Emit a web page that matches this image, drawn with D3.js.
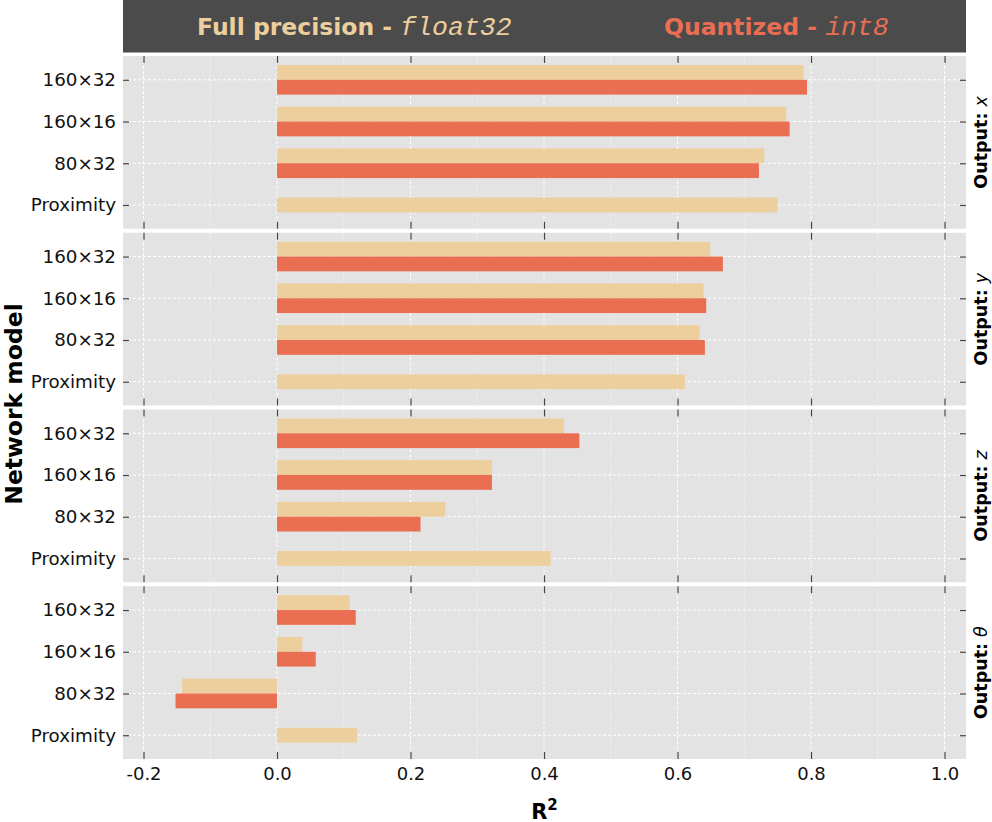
<!DOCTYPE html>
<html>
<head>
<meta charset="utf-8">
<script src="https://cdn.jsdelivr.net/npm/d3@7"></script>
<style>
  body { margin: 0; background: #fff; }
  text { font-family: "DejaVu Sans", sans-serif; }
</style>
</head>
<body>
<svg id="chart" width="992" height="822"></svg>
<script>
// chart data
const outputs = ["x", "y", "z", "θ"];
const models = ["160×32", "160×16", "80×32", "Proximity"];
// R² per output (rows) and model (columns)
const float32 = [
  [0.789, 0.763, 0.730, 0.750],
  [0.649, 0.639, 0.633, 0.611],
  [0.430, 0.322, 0.252, 0.410],
  [0.109, 0.038, -0.142, 0.120]
];
const int8 = [
  [0.794, 0.768, 0.722, null],
  [0.668, 0.643, 0.641, null],
  [0.453, 0.322, 0.215, null],
  [0.118, 0.058, -0.152, null]
];
const xTicks = [-0.2, 0.0, 0.2, 0.4, 0.6, 0.8, 1.0];
const xMinor = [-0.1, 0.1, 0.3, 0.5, 0.7, 0.9];

const colFloat = "#edcf9e";
const colInt = "#e96e52";

const svg = d3.select("#chart");
const plotL = 123, plotR = 966, plotT = 56, plotB = 759;

const x = d3.scaleLinear().domain([-0.2307, 1.0322]).range([plotL, plotR]);

const panel = d3.scaleBand()
  .domain(outputs)
  .range([plotT, plotB])
  .paddingInner(0.0226)
  .paddingOuter(0);

// header band with the legend text
svg.append("rect")
  .attr("x", plotL).attr("y", 0)
  .attr("width", plotR - plotL).attr("height", 52.5)
  .attr("fill", "#4b4b4b");

function legendText(xPos, label, code, color) {
  const t = svg.append("text")
    .attr("x", xPos).attr("y", 35)
    .attr("fill", color)
    .style("font-size", "23.5px");
  t.append("tspan").style("font-weight", "bold").text(label);
  t.append("tspan")
    .style("font-family", "'Liberation Mono', monospace")
    .style("font-style", "italic")
    .style("font-size", "26.5px")
    .text(code);
}
legendText(197, "Full precision - ", "float32", colFloat);
legendText(664, "Quantized - ", "int8", colInt);

outputs.forEach((out, i) => {
  const y0 = panel(out), h = panel.bandwidth();
  const g = svg.append("g");

  const y = d3.scalePoint().domain(models).range([y0, y0 + h]).padding(0.57);
  const barH = y.step() * 0.355;

  g.append("rect")
    .attr("x", plotL).attr("y", y0)
    .attr("width", plotR - plotL).attr("height", h)
    .attr("fill", "#e3e3e3");

  // grid
  g.selectAll(".minor").data(xMinor).join("line")
    .attr("x1", d => x(d)).attr("x2", d => x(d))
    .attr("y1", y0).attr("y2", y0 + h)
    .attr("stroke", "#fff").attr("stroke-width", 0.7)
    .attr("stroke-dasharray", "1.5,1.5").attr("opacity", 0.8);
  g.selectAll(".major").data(xTicks).join("line")
    .attr("x1", d => x(d)).attr("x2", d => x(d))
    .attr("y1", y0).attr("y2", y0 + h)
    .attr("stroke", "#fff").attr("stroke-width", 1)
    .attr("stroke-dasharray", "3,2");
  g.selectAll(".ygrid").data(models).join("line")
    .attr("x1", plotL).attr("x2", plotR)
    .attr("y1", d => y(d)).attr("y2", d => y(d))
    .attr("stroke", "#fff").attr("stroke-width", 1)
    .attr("stroke-dasharray", "3,2");

  // bars
  const rows = models.map((m, j) => ({ m, f: float32[i][j], q: int8[i][j] }));
  g.selectAll(".bf").data(rows).join("rect")
    .attr("x", d => x(Math.min(0, d.f)))
    .attr("width", d => Math.abs(x(d.f) - x(0)))
    .attr("y", d => d.q == null ? y(d.m) - barH / 2 : y(d.m) - barH)
    .attr("height", barH)
    .attr("fill", colFloat);
  g.selectAll(".bq").data(rows.filter(d => d.q != null)).join("rect")
    .attr("x", d => x(Math.min(0, d.q)))
    .attr("width", d => Math.abs(x(d.q) - x(0)))
    .attr("y", d => y(d.m))
    .attr("height", barH)
    .attr("fill", colInt);

  // axes: ticks pointing inward on all four sides
  const yl = g.append("g").attr("transform", `translate(${plotL},0)`)
    .call(d3.axisLeft(y).tickSize(-6).tickPadding(7));
  yl.selectAll("text").style("font-size", "18.3px").attr("fill", "#111");
  const yr = g.append("g").attr("transform", `translate(${plotR},0)`)
    .call(d3.axisRight(y).tickSize(-6).tickFormat(""));
  const xt = g.append("g").attr("transform", `translate(0,${y0})`)
    .call(d3.axisTop(x).tickValues(xTicks).tickSize(-7).tickFormat(""));
  const xb = g.append("g").attr("transform", `translate(0,${y0 + h})`)
    .call(d3.axisBottom(x).tickValues(xTicks).tickSize(-7)
      .tickPadding(8).tickFormat(d => d.toFixed(1)));
  if (i < outputs.length - 1) xb.selectAll("text").remove();
  xb.selectAll("text").style("font-size", "18px").attr("fill", "#111");

  [yl, yr, xt, xb].forEach(a => {
    a.select(".domain").remove();
    a.selectAll(".tick line").attr("stroke", "#444").attr("stroke-width", 1.2);
  });

  // facet label on the right
  const lab = svg.append("text")
    .attr("transform", `translate(981,${y0 + h / 2}) rotate(-90)`)
    .attr("text-anchor", "middle")
    .attr("dominant-baseline", "central")
    .style("font-size", "17.5px");
  lab.append("tspan").style("font-weight", "bold").text("Output: ");
  lab.append("tspan").style("font-style", "italic").text(out);
});

// axis titles
svg.append("text")
  .attr("transform", `translate(22,404) rotate(-90)`)
  .attr("text-anchor", "middle")
  .style("font-size", "23.5px").style("font-weight", "bold")
  .text("Network model");

const xl = svg.append("text")
  .attr("x", (plotL + plotR) / 2).attr("y", 818.5)
  .attr("text-anchor", "middle")
  .style("font-size", "21px").style("font-weight", "bold");
xl.append("tspan").text("R");
xl.append("tspan").attr("dy", -9).style("font-size", "15px").text("2");
</script>
</body>
</html>
